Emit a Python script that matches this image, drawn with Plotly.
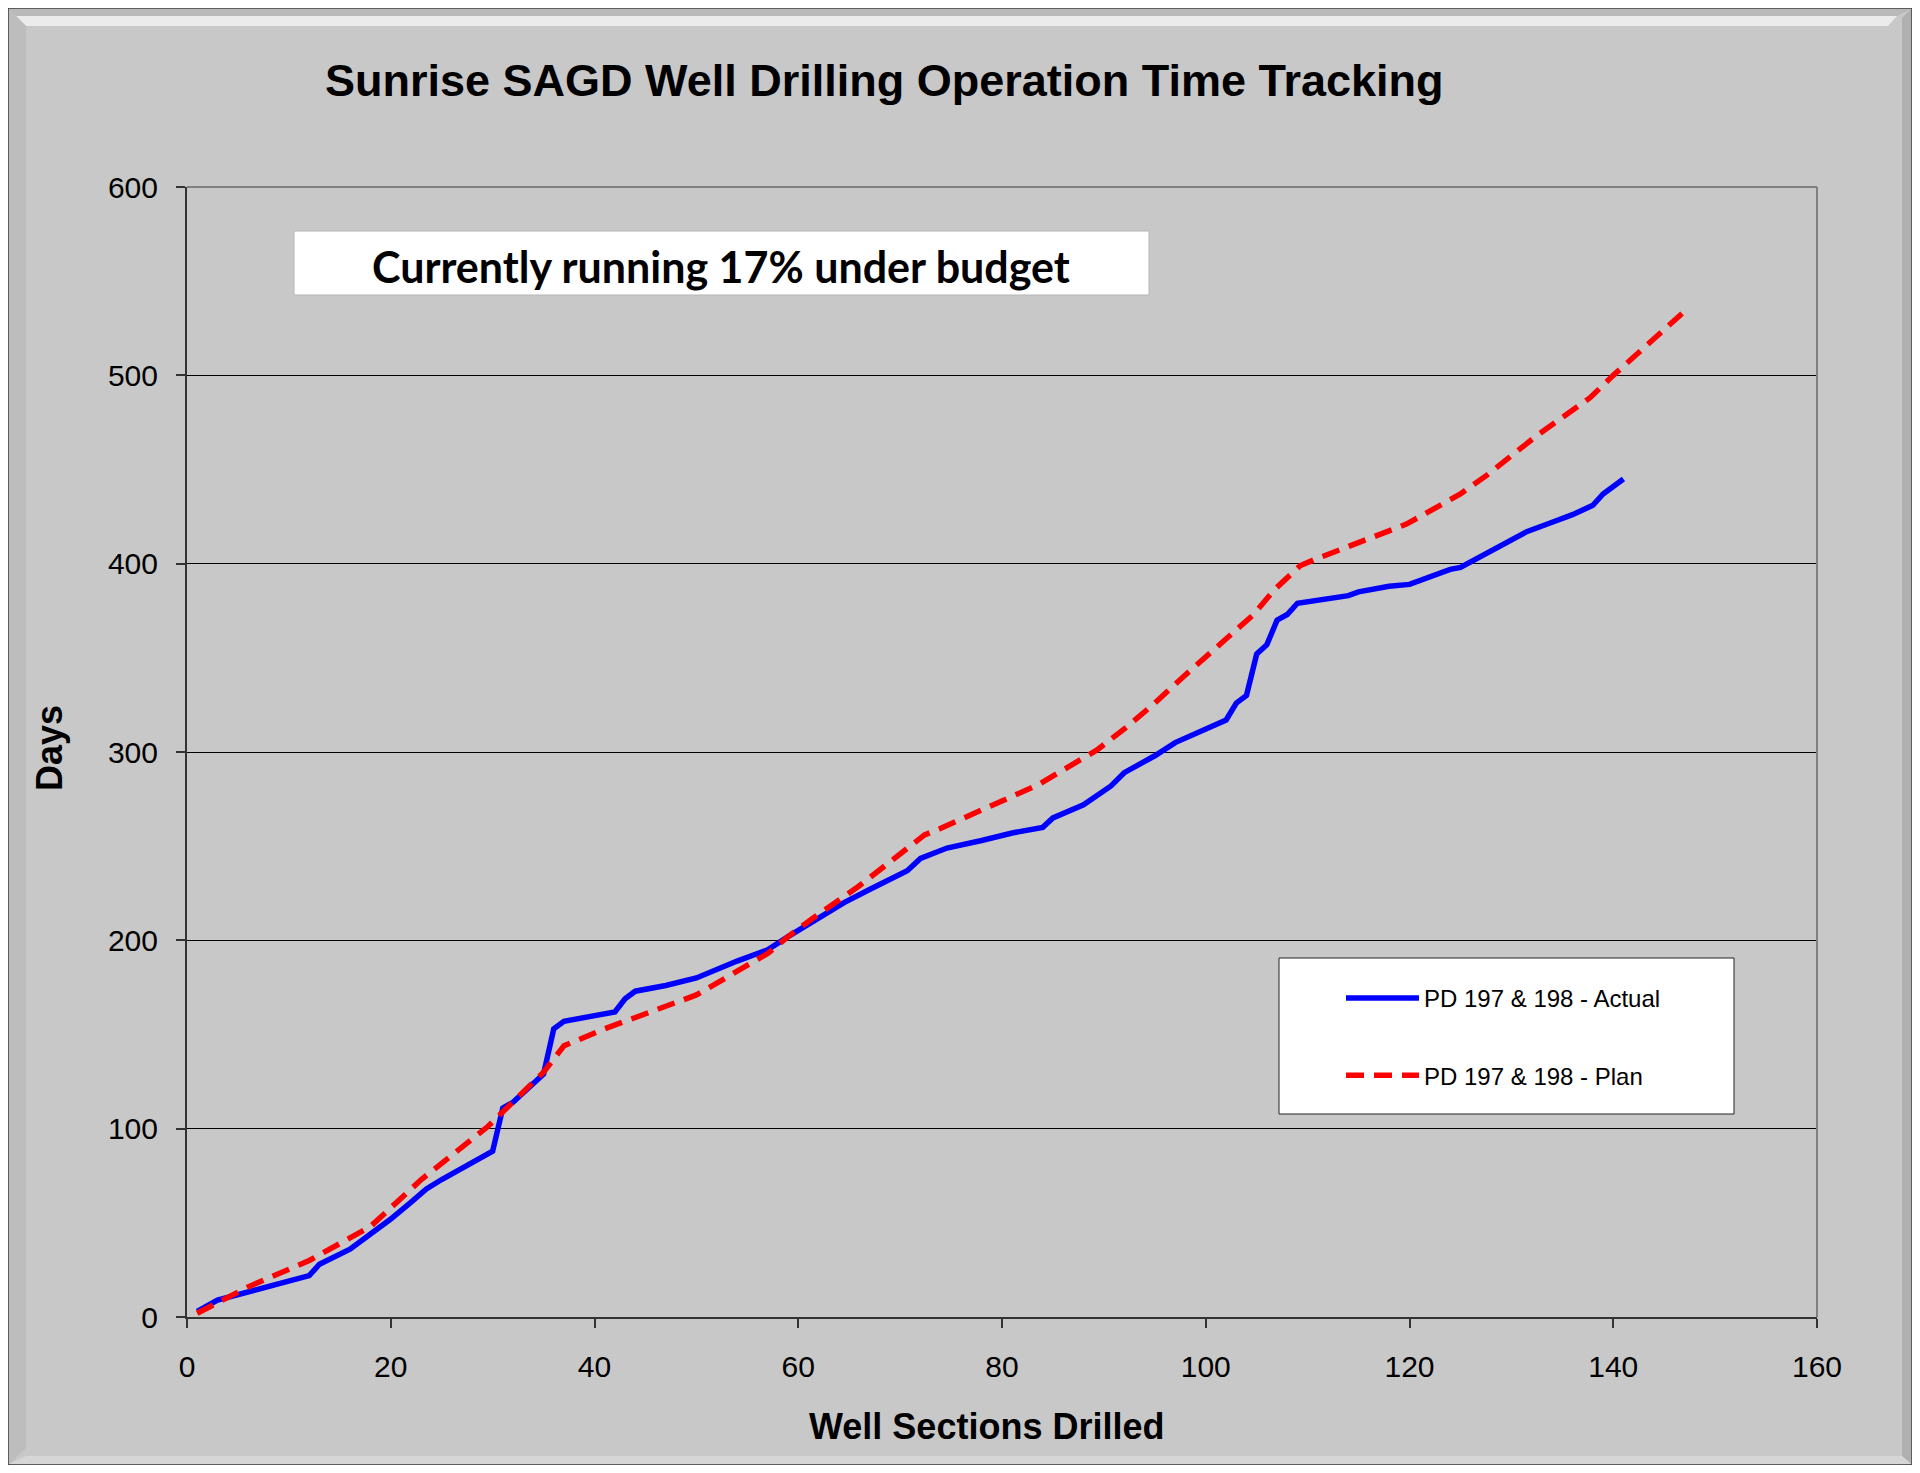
import plotly.graph_objects as go

# ---- data ----
actual_name = "PD 197 & 198 - Actual"
actual_x = [1, 3, 12, 13, 16, 18, 20, 22, 23.5, 25, 27, 30, 31, 32, 35, 36, 37, 39,
            42, 43, 44, 47, 50, 54, 57, 59, 60.5, 64.5, 67, 70.7, 72, 74.6, 78, 81,
            84, 85, 88, 89, 90.7, 92, 95, 97, 100, 102, 103, 104, 105, 106, 107, 108,
            109, 111.6, 114, 115, 118, 120, 122.5, 124, 125, 126, 129, 131.5, 134,
            136, 138, 139, 141]
actual_y = [3, 9, 22, 28, 36, 44, 52, 61, 68, 73, 79, 88, 111, 114, 129, 153, 157, 159,
            162, 169, 173, 176, 180, 189, 195, 202, 207, 220, 227, 237, 243.5, 249, 253, 257,
            260, 265, 272, 276, 282, 289, 298, 305, 312, 317, 326, 330, 352, 357, 370, 373,
            379, 381, 383, 385, 388, 389, 394, 397, 398, 401, 410, 417, 422,
            426, 431, 437, 445]

plan_name = "PD 197 & 198 - Plan"
plan_x = [1, 6, 12, 18, 23, 29.5, 35, 37, 41, 50, 57, 59, 61.5, 66, 72.4, 74, 83.5,
          89.3, 92.3, 95, 97.8, 103.4, 104.7, 106.7, 109.3, 110.6, 115.5, 119.7, 125,
          127.6, 132.5, 137.7, 140, 147]
plan_y = [2, 16, 30, 48, 73, 101, 130, 144, 153, 171, 193, 202, 212, 229, 256, 259.5, 282.5,
          301, 313.5, 326, 340, 367, 373, 386, 399, 402, 412, 421, 437,
          447, 468, 488, 500, 534]

x_ticks = [0, 20, 40, 60, 80, 100, 120, 140, 160]
y_ticks = [0, 100, 200, 300, 400, 500, 600]

title_text = "Sunrise SAGD Well Drilling Operation Time Tracking"
note_text = "Currently running 17% under budget"
x_title = "Well Sections Drilled"
y_title = "Days"

FONT = "Liberation Sans, Arial, sans-serif"
GRAY = "#c8c8c8"

# page pixel -> paper coords (plot area spans page x 187..1817, y 187..1317)
def fx(px):
    return (px - 187) / 1630.0

def fy(py):
    return (1317 - py) / 1130.0


fig = go.Figure()

fig.add_trace(go.Scatter(
    x=actual_x, y=actual_y, mode="lines", name=actual_name, legendgroup="a",
    line=dict(color="#0000ff", width=5.5),
))
fig.add_trace(go.Scatter(
    x=plan_x, y=plan_y, mode="lines", name=plan_name, legendgroup="b",
    line=dict(color="#ff0000", width=5.5, dash="18px,10px"),
))

axis_common = dict(
    showline=True, linecolor="#333333", linewidth=2,
    ticks="outside", ticklen=9, tickwidth=1.5, tickcolor="#333333",
    tickfont=dict(family=FONT, size=30, color="black"),
    zeroline=False,
)
fig.update_xaxes(range=[0, 160], tickvals=x_ticks, showgrid=False,
                 ticklabelstandoff=13, **axis_common)
fig.update_yaxes(range=[0, 600], tickvals=y_ticks, showgrid=True,
                 gridcolor="black", gridwidth=1.2, ticklabelstandoff=12, **axis_common)

shapes = []
# outer frame and bevels
shapes.append(dict(type="rect", xref="paper", yref="paper", layer="below",
                   x0=fx(8), x1=fx(1912), y0=fy(1465), y1=fy(8),
                   fillcolor=GRAY, line=dict(color="#3a3a3a", width=1.5)))


def poly(pts, color):
    d = "M " + " L ".join(f"{fx(a):.5f},{fy(b):.5f}" for a, b in pts) + " Z"
    return dict(type="path", xref="paper", yref="paper", layer="below",
                path=d, fillcolor=color, line=dict(width=0))


shapes.append(poly([(9, 9), (1911, 9), (1897, 16), (16, 16)], "#b9b9b9"))
shapes.append(poly([(16, 16), (1897, 16), (1888, 26), (26, 26)], "#ebebeb"))
shapes.append(poly([(9, 9), (26, 26), (26, 1448), (9, 1464)], "#bdbdbd"))
shapes.append(poly([(1911, 9), (1902, 18), (1902, 1456), (1911, 1464)], "#b0b0b0"))
shapes.append(poly([(9, 1464), (26, 1456), (1902, 1456), (1911, 1464)], "#d6d6d6"))

# top and right plot border (gray)
shapes.append(dict(type="line", xref="paper", yref="paper", x0=0, x1=1, y0=1, y1=1,
                   line=dict(color="#808080", width=2), layer="above"))
shapes.append(dict(type="line", xref="paper", yref="paper", x0=1, x1=1, y0=0, y1=1,
                   line=dict(color="#808080", width=2), layer="above"))

# note box
shapes.append(dict(type="rect", xref="paper", yref="paper", layer="above",
                   x0=fx(294), x1=fx(1149), y0=fy(295), y1=fy(231),
                   fillcolor="white", line=dict(color="#b5b5b5", width=1)))
# legend box
shapes.append(dict(type="rect", xref="paper", yref="paper", layer="above",
                   x0=fx(1279), x1=fx(1734), y0=fy(1114), y1=fy(958),
                   fillcolor="white", line=dict(color="#222222", width=1)))

annotations = [
    dict(text=title_text, x=fx(884), y=fy(80), xref="paper", yref="paper",
         showarrow=False, xanchor="center", yanchor="middle",
         font=dict(family=FONT, size=45, color="black", weight="bold")),
    dict(text=note_text, x=fx(721), y=fy(266), xref="paper", yref="paper",
         showarrow=False, xanchor="center", yanchor="middle",
         font=dict(family="Lato, sans-serif", size=43, color="black", weight="bold")),
    dict(text=x_title, x=fx(986), y=fy(1426), xref="paper", yref="paper",
         showarrow=False, xanchor="center", yanchor="middle",
         font=dict(family=FONT, size=36, color="black", weight="bold")),
    dict(text=y_title, x=fx(49), y=fy(748), xref="paper", yref="paper",
         showarrow=False, xanchor="center", yanchor="middle", textangle=-90,
         font=dict(family=FONT, size=36, color="black", weight="bold")),
]

fig.update_layout(
    width=1904, height=1457,
    margin=dict(l=179, r=95, t=179, b=148),
    paper_bgcolor=GRAY,
    plot_bgcolor=GRAY,
    shapes=shapes,
    annotations=annotations,
    showlegend=True,
    legend=dict(
        x=fx(1341), y=fy(976), xanchor="left", yanchor="top",
        bgcolor="rgba(0,0,0,0)", borderwidth=0,
        font=dict(family=FONT, size=24, color="black"),
        itemwidth=73, tracegroupgap=43, traceorder="grouped",
    ),
)

fig.write_html("out.html")
